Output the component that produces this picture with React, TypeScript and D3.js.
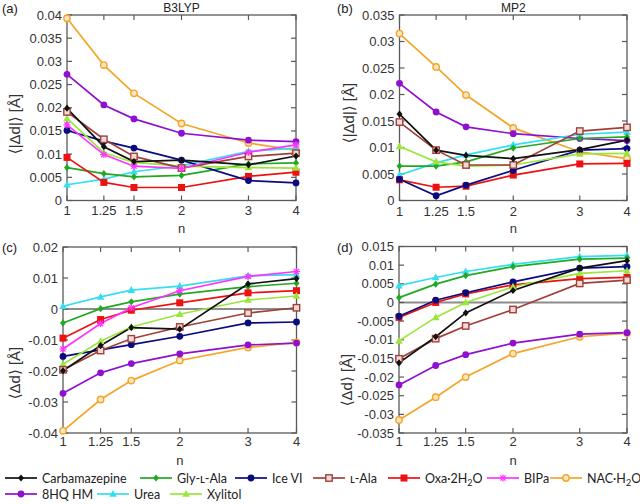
import React from 'react';
import * as d3 from 'd3';

const nValues = [1, 1.25, 1.5, 2, 3, 4];

const seriesIds = ['carb', 'gly', 'ice', 'lala', 'oxa', 'bipa', 'nac', 'hq', 'urea', 'xyl'];
const seriesColors: Record<string, string> = {
  carb: '#111111', gly: '#22a822', ice: '#0b0b80', lala: '#a0403a', oxa: '#ee1111',
  bipa: '#ff33ff', nac: '#f4a52a', hq: '#9010cf', urea: '#33def0', xyl: '#9be63a',
};
const seriesMarkers: Record<string, string> = {
  carb: 'diamond', gly: 'diamond', ice: 'circle', lala: 'openSquare', oxa: 'square',
  bipa: 'star', nac: 'openCircle', hq: 'circle', urea: 'triangle', xyl: 'triangle',
};
// draw order (bottom -> top)
const drawOrder = ['nac', 'hq', 'urea', 'gly', 'oxa', 'ice', 'xyl', 'lala', 'bipa', 'carb'];

// (a) B3LYP <|Δd|>
const b3lypAbs: Record<string, number[]> = {
  carb: [0.0199, 0.0116, 0.0084, 0.0087, 0.0077, 0.0096],
  gly: [0.0071, 0.0058, 0.0051, 0.0054, 0.0079, 0.0081],
  ice: [0.0151, 0.0128, 0.0113, 0.0087, 0.0043, 0.0038],
  lala: [0.0191, 0.0132, 0.0095, 0.0070, 0.0095, 0.0102],
  oxa: [0.0093, 0.0039, 0.0028, 0.0028, 0.0052, 0.0061],
  bipa: [0.0163, 0.0099, 0.0074, 0.0069, 0.0104, 0.0120],
  nac: [0.0393, 0.0292, 0.0231, 0.0166, 0.0124, 0.0108],
  hq: [0.0272, 0.0206, 0.0176, 0.0145, 0.0130, 0.0127],
  urea: [0.0034, 0.0046, 0.0062, 0.0075, 0.0106, 0.0113],
  xyl: [0.0177, 0.0103, 0.0082, 0.0074, 0.0071, 0.0070],
};
// (b) MP2 <|Δd|>
const mp2Abs: Record<string, number[]> = {
  carb: [0.0163, 0.0095, 0.0085, 0.0079, 0.0096, 0.0114],
  gly: [0.0065, 0.0065, 0.0073, 0.0099, 0.0117, 0.0120],
  ice: [0.0040, 0.0009, 0.0029, 0.0057, 0.0095, 0.0098],
  lala: [0.0148, 0.0095, 0.0067, 0.0067, 0.0131, 0.0138],
  oxa: [0.0039, 0.0025, 0.0027, 0.0048, 0.0069, 0.0070],
  nac: [0.0315, 0.0252, 0.0199, 0.0137, 0.0092, 0.0079],
  hq: [0.0221, 0.0167, 0.0139, 0.0126, 0.0117, 0.0113],
  urea: [0.0048, 0.0071, 0.0086, 0.0105, 0.0125, 0.0129],
  xyl: [0.0102, 0.0073, 0.0065, 0.0067, 0.0088, 0.0089],
};
// (c) B3LYP <Δd>
const b3lypSigned: Record<string, number[]> = {
  carb: [-0.0199, -0.0118, -0.0060, -0.0065, 0.0081, 0.0098],
  gly: [-0.0045, 0.0001, 0.0023, 0.0048, 0.0072, 0.0083],
  ice: [-0.0153, -0.0132, -0.0115, -0.0088, -0.0045, -0.0042],
  lala: [-0.0196, -0.0134, -0.0096, -0.0058, -0.0013, 0.0004],
  oxa: [-0.0094, -0.0034, -0.0004, 0.0020, 0.0052, 0.0059],
  bipa: [-0.0129, -0.0047, 0.0004, 0.0059, 0.0105, 0.0121],
  nac: [-0.0393, -0.0292, -0.0231, -0.0166, -0.0124, -0.0108],
  hq: [-0.0272, -0.0206, -0.0176, -0.0145, -0.0116, -0.0110],
  urea: [0.0009, 0.0039, 0.0061, 0.0074, 0.0107, 0.0111],
  xyl: [-0.0178, -0.0104, -0.0058, -0.0017, 0.0029, 0.0042],
};
// (d) MP2 <Δd>
const mp2Signed: Record<string, number[]> = {
  carb: [-0.0162, -0.0092, -0.0028, 0.0032, 0.0092, 0.0112],
  gly: [0.0013, 0.0049, 0.0072, 0.0096, 0.0116, 0.0119],
  ice: [-0.0037, 0.0006, 0.0026, 0.0055, 0.0092, 0.0096],
  lala: [-0.0151, -0.0097, -0.0063, -0.0019, 0.0051, 0.0060],
  oxa: [-0.0040, 0.0000, 0.0023, 0.0047, 0.0064, 0.0067],
  nac: [-0.0315, -0.0254, -0.0200, -0.0137, -0.0092, -0.0082],
  hq: [-0.0221, -0.0169, -0.0140, -0.0109, -0.0085, -0.0081],
  urea: [0.0045, 0.0067, 0.0083, 0.0102, 0.0123, 0.0126],
  xyl: [-0.0103, -0.0040, 0.0000, 0.0042, 0.0078, 0.0085],
};

const yTicksA = d3.range(0, 0.04001, 0.005);
const yTicksB = d3.range(0, 0.03501, 0.005);
const yTicksC = d3.range(-0.04, 0.02001, 0.01);
const yTicksD = d3.range(-0.035, 0.01501, 0.005);

const AXIS_FONT = "'Liberation Sans', 'DejaVu Sans', sans-serif";
const LEGEND_FONT = "Lato, 'Open Sans', sans-serif";

const fmt = (v: number) => {
  const r = Math.round(v * 1000) / 1000;
  if (Math.abs(r) < 1e-9) return '0';
  return String(+r.toFixed(3));
};

function Marker({ type, color, x, y }: { type: string; color: string; x: number; y: number }) {
  switch (type) {
    case 'diamond':
      return <polygon points={`${x},${y - 3.6} ${x + 3},${y} ${x},${y + 3.6} ${x - 3},${y}`} fill={color} />;
    case 'circle':
      return <circle cx={x} cy={y} r={3.4} fill={color} />;
    case 'openCircle':
      return <circle cx={x} cy={y} r={3.2} fill="#fde6c0" stroke={color} strokeWidth={1.4} />;
    case 'square':
      return <rect x={x - 3.5} y={y - 3.5} width={7} height={7} fill={color} />;
    case 'openSquare':
      return <rect x={x - 3.2} y={y - 3.2} width={6.4} height={6.4} fill="#f3dcd8" stroke={color} strokeWidth={1.4} />;
    case 'triangle':
      return <polygon points={`${x},${y - 4} ${x + 3.8},${y + 2.8} ${x - 3.8},${y + 2.8}`} fill={color} />;
    case 'star':
      return (
        <g stroke={color} strokeWidth={1.3}>
          <line x1={x - 3.5} y1={y} x2={x + 3.5} y2={y} />
          <line x1={x} y1={y - 3.5} x2={x} y2={y + 3.5} />
          <line x1={x - 2.6} y1={y - 2.6} x2={x + 2.6} y2={y + 2.6} />
          <line x1={x - 2.6} y1={y + 2.6} x2={x + 2.6} y2={y - 2.6} />
        </g>
      );
    default:
      return null;
  }
}

type PanelCfg = {
  key: string; letter: string; title?: string; data: Record<string, number[]>;
  left: number; right: number; top: number; bottom: number;
  domain: [number, number]; yTicks: number[]; yLabel: string;
  yLabelX: number; yLabelY: number; letterX: number; letterY: number;
  zero: boolean; tickLabelY: number; nY: number;
};

const panels: PanelCfg[] = [
  { key: 'a', letter: '(a)', title: 'B3LYP', data: b3lypAbs, left: 67, right: 296, top: 15, bottom: 200.5,
    domain: [0, 0.04], yTicks: yTicksA, yLabel: '⟨|Δd|⟩ [Å]', yLabelX: 14, yLabelY: 124,
    letterX: 2, letterY: 13, zero: false, tickLabelY: 215, nY: 233 },
  { key: 'b', letter: '(b)', title: 'MP2', data: mp2Abs, left: 399.5, right: 627, top: 15, bottom: 200.5,
    domain: [0, 0.035], yTicks: yTicksB, yLabel: '⟨|Δd|⟩ [Å]', yLabelX: 348, yLabelY: 113,
    letterX: 337, letterY: 13, zero: false, tickLabelY: 216, nY: 233 },
  { key: 'c', letter: '(c)', data: b3lypSigned, left: 63, right: 296.5, top: 247, bottom: 433,
    domain: [-0.04, 0.02], yTicks: yTicksC, yLabel: '⟨Δd⟩ [Å]', yLabelX: 14, yLabelY: 373,
    letterX: 2, letterY: 252, zero: true, tickLabelY: 446, nY: 465 },
  { key: 'd', letter: '(d)', data: mp2Signed, left: 399, right: 627, top: 246.5, bottom: 433,
    domain: [-0.035, 0.015], yTicks: yTicksD, yLabel: '⟨Δd⟩ [Å]', yLabelX: 346, yLabelY: 380,
    letterX: 337, letterY: 252, zero: true, tickLabelY: 446, nY: 465 },
];

function Panel({ cfg }: { cfg: PanelCfg }) {
  const x = d3.scaleLog().domain([1, 4]).range([cfg.left, cfg.right]);
  const y = d3.scaleLinear().domain(cfg.domain).range([cfg.bottom, cfg.top]);
  const line = d3.line<number>().x((_, i) => x(nValues[i])).y((d) => y(d));
  const frame = '#5a5a5a';
  const tl = 5;
  const ids = drawOrder.filter((id) => cfg.data[id]);
  return (
    <g>
      {cfg.zero && (
        <line x1={cfg.left} x2={cfg.right} y1={y(0)} y2={y(0)} stroke="#8c8c8c" strokeWidth={2} />
      )}
      {nValues.map((n) => (
        <g key={'xt' + n}>
          <line x1={x(n)} x2={x(n)} y1={cfg.bottom} y2={cfg.bottom - tl} stroke={frame} strokeWidth={1.2} />
          <line x1={x(n)} x2={x(n)} y1={cfg.top} y2={cfg.top + tl} stroke={frame} strokeWidth={1.2} />
          <text x={x(n)} y={cfg.tickLabelY} textAnchor="middle" fontFamily={AXIS_FONT} fontSize={13} fill="#333">
            {String(n)}
          </text>
        </g>
      ))}
      {cfg.yTicks.map((v) => (
        <g key={'yt' + v}>
          <line x1={cfg.left} x2={cfg.left + tl} y1={y(v)} y2={y(v)} stroke={frame} strokeWidth={1.2} />
          <line x1={cfg.right} x2={cfg.right - tl} y1={y(v)} y2={y(v)} stroke={frame} strokeWidth={1.2} />
          <text x={cfg.left - 5} y={y(v) + 4.5} textAnchor="end" fontFamily={AXIS_FONT} fontSize={13} fill="#333">
            {fmt(v)}
          </text>
        </g>
      ))}
      <rect x={cfg.left} y={cfg.top} width={cfg.right - cfg.left} height={cfg.bottom - cfg.top}
        fill="none" stroke={frame} strokeWidth={1.3} />
      {ids.map((id) => (
        <path key={'l' + id} d={line(cfg.data[id]) || ''} fill="none" stroke={seriesColors[id]} strokeWidth={1.7} />
      ))}
      {ids.map((id) => (
        <g key={'m' + id}>
          {cfg.data[id].map((v, i) => (
            <Marker key={i} type={seriesMarkers[id]} color={seriesColors[id]} x={x(nValues[i])} y={y(v)} />
          ))}
        </g>
      ))}
      <text x={cfg.letterX} y={cfg.letterY} fontFamily={AXIS_FONT} fontSize={13} fill="#222">{cfg.letter}</text>
      {cfg.title && (
        <text x={(cfg.left + cfg.right) / 2} y={12} textAnchor="middle" fontFamily={AXIS_FONT} fontSize={12} fill="#222">
          {cfg.title}
        </text>
      )}
      <text x={(cfg.left + cfg.right) / 2} y={cfg.nY} textAnchor="middle" fontFamily={AXIS_FONT} fontSize={13} fill="#333">n</text>
      <text transform={`translate(${cfg.yLabelX},${cfg.yLabelY}) rotate(-90)`} textAnchor="middle"
        dominantBaseline="central" fontFamily={AXIS_FONT} fontSize={15} fill="#333">
        {cfg.yLabel}
      </text>
    </g>
  );
}

const legendLabels: Record<string, React.ReactNode> = {
  carb: 'Carbamazepine',
  gly: 'Gly-ʟ-Ala',
  ice: 'Ice VI',
  lala: 'ʟ-Ala',
  oxa: <>Oxa·2H<tspan dy={3} fontSize={9}>2</tspan><tspan dy={-3}>O</tspan></>,
  bipa: 'BIPa',
  nac: <>NAC·H<tspan dy={3} fontSize={9}>2</tspan><tspan dy={-3}>O</tspan></>,
  hq: '8HQ HM',
  urea: 'Urea',
  xyl: 'Xylitol',
};
const legendRows = [
  ['carb', 'gly', 'ice', 'lala', 'oxa', 'bipa', 'nac'],
  ['hq', 'urea', 'xyl'],
];
const legendStarts = [
  [5, 140, 235, 313, 388, 487, 550],
  [5, 97, 170],
];
const legendRowY = [478, 494];

function Legend() {
  return (
    <g>
      {legendRows.map((row, r) =>
        row.map((id, i) => {
          const x0 = legendStarts[r][i];
          const yy = legendRowY[r];
          return (
            <g key={id}>
              <line x1={x0} x2={x0 + 32} y1={yy} y2={yy} stroke={seriesColors[id]} strokeWidth={1.7} />
              <Marker type={seriesMarkers[id]} color={seriesColors[id]} x={x0 + 16} y={yy} />
              <text x={x0 + 37} y={yy + 4.5} fontFamily={LEGEND_FONT} fontSize={12.5} fill="#222">
                {legendLabels[id]}
              </text>
            </g>
          );
        })
      )}
    </g>
  );
}

export default function App() {
  return (
    <svg width={640} height={504} style={{ position: 'absolute', left: 0, top: 0, background: '#fff' }}>
      <rect width={640} height={504} fill="#fff" />
      {panels.map((p) => <Panel key={p.key} cfg={p} />)}
      <Legend />
    </svg>
  );
}
